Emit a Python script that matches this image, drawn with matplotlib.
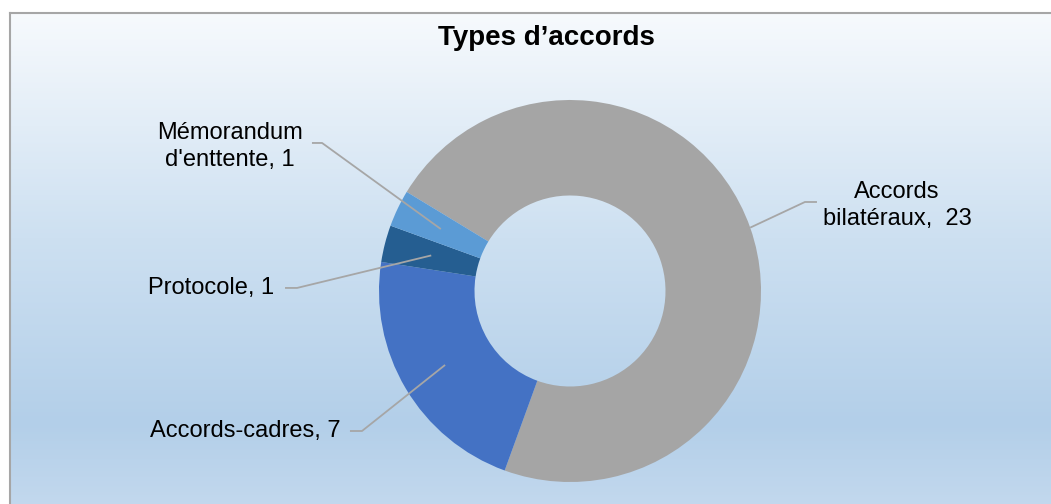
import numpy as np
import matplotlib.pyplot as plt
from matplotlib.colors import LinearSegmentedColormap

plt.rcParams['font.family'] = ['Liberation Sans', 'DejaVu Sans']

# données du graphique
labels = ['Accords\nbilatéraux,  23', 'Accords-cadres, 7', 'Protocole, 1', "Mémorandum\nd'enttente, 1"]
values = [23, 7, 1, 1]
colors = ['#A5A5A5', '#4472C4', '#255E91', '#5B9BD5']
title = 'Types d’accords'

W, H = 1051, 504
fig = plt.figure(figsize=(W / 100, H / 100), dpi=100)

# fond dégradé + cadre gris
bg = fig.add_axes([10 / W, -0.02, 1.0, (H - 13) / H + 0.02])
grad = LinearSegmentedColormap.from_list('bg', [(0, '#C4D9EE'), (0.18, '#B3CFE9'),
                                                (0.55, '#CDE0F1'), (1, '#F7FAFD')])
bg.imshow(np.linspace(0, 1, 256).reshape(-1, 1), cmap=grad, aspect='auto',
          origin='lower', extent=[0, 1, 0, 1])
bg.set_xticks([])
bg.set_yticks([])
for s in bg.spines.values():
    s.set_color('#A6A6A6')
    s.set_linewidth(1.5)

# anneau
cx, cy, R = 570, 291, 191
ax = fig.add_axes([(cx - R) / W, (H - cy - R) / H, 2 * R / W, 2 * R / H])
wedges, _ = ax.pie(values, colors=colors, startangle=148.75, counterclock=False,
                   radius=1.0, wedgeprops=dict(width=0.5, linewidth=0))
ax.set_xlim(-1, 1)
ax.set_ylim(-1, 1)
ax.axis('off')

fig.text(546 / W, 1 - 38 / H, title, ha='center', va='center',
         fontsize=20, fontweight='bold')

# étiquettes avec traits de rappel: (rayon d'ancrage, coude x, fin x, y trait, texte x, texte y, ha)
lab_pos = [
    (1.00, 1.230, 1.293, 0.466, 1.712, 0.450, 'center'),
    (0.76, -1.089, -1.152, -0.733, -1.199, -0.733, 'right'),
    (0.75, -1.429, -1.492, 0.016, -1.55, 0.016, 'right'),
    (0.75, -1.298, -1.351, 0.775, -1.780, 0.755, 'center'),
]
for w, lab, (r, ex, endx, ly, tx, ty, ha) in zip(wedges, labels, lab_pos):
    mid = np.deg2rad((w.theta1 + w.theta2) / 2)
    px, py = r * np.cos(mid), r * np.sin(mid)
    ax.plot([px, ex, endx], [py, ly, ly], color='#A6A6A6', lw=1.3,
            clip_on=False, solid_capstyle='butt')
    ax.text(tx, ty, lab, ha=ha, va='center', fontsize=17, linespacing=1.3,
            clip_on=False)

fig.savefig('out.png', dpi=100)
